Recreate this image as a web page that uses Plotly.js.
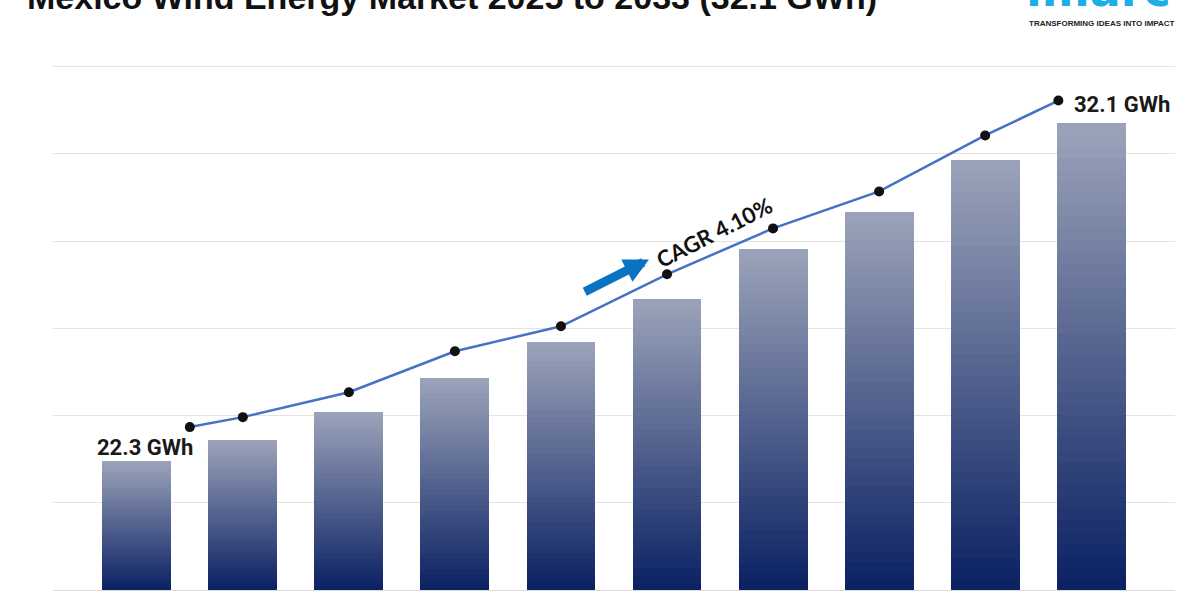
<!DOCTYPE html>
<html>
<head>
<meta charset="utf-8">
<script src="https://cdn.plot.ly/plotly-3.0.1.min.js"></script>
<style>html,body{margin:0;padding:0;background:#fff;}#chart{width:1200px;height:600px;}</style>
</head>
<body>
<div id="chart"></div>
<script>
// Data (relative index units; the chart shows no value axis)
const years = [2024, 2025, 2026, 2027, 2028, 2029, 2030, 2031, 2032, 2033];
const barValues = [7.39, 8.59, 10.19, 12.14, 14.20, 16.67, 19.53, 21.65, 24.63, 26.75];
const trendYears = [2024.5, 2025, 2026, 2027, 2028, 2029, 2030, 2031, 2032, 2032.69];
const trendValues = [9.34, 9.91, 11.34, 13.69, 15.12, 18.10, 20.73, 22.85, 26.06, 28.06];
const startLabel = "22.3 GWh";
const endLabel = "32.1 GWh";
const cagrLabel = "CAGR 4.10%";
const titleText = "Mexico Wind Energy Market 2025 to 2033 (32.1 GWh)";

// Gradient bars built as stacked slices
const N = 40;
const bottomRGB = [10, 32, 98];
const topRGB = [156, 164, 186];
function lerpColor(t) {
  const c = bottomRGB.map((b, i) => Math.round(b + (topRGB[i] - b) * t));
  return `rgb(${c[0]},${c[1]},${c[2]})`;
}
const traces = [];
for (let k = 0; k < N; k++) {
  traces.push({
    type: 'bar',
    x: years,
    y: barValues.map(v => v / N),
    width: 0.65,
    marker: { color: lerpColor((k + 0.5) / N), line: { width: 0 } },
    hoverinfo: 'skip',
    showlegend: false
  });
}
traces.push({
  type: 'scatter',
  mode: 'lines+markers',
  x: trendYears,
  y: trendValues,
  line: { color: '#4472C4', width: 2.5 },
  marker: { color: '#111111', size: 10 },
  showlegend: false,
  cliponaxis: false
});

const n = trendYears.length;
const annotations = [
  { x: -0.025, y: 1.1147, xref: 'paper', yref: 'paper', text: '<b>' + titleText + '</b>', showarrow: false,
    xanchor: 'left', yanchor: 'middle',
    font: { family: 'Arial, Liberation Sans, sans-serif', size: 34, color: '#111111' } },
  { x: trendYears[0], y: trendValues[0], xref: 'x', yref: 'y', text: '<b>' + startLabel + '</b>',
    showarrow: false, xanchor: 'right', yanchor: 'middle', xshift: 5, yshift: -20,
    font: { family: 'Roboto, Arial, sans-serif', size: 22, color: '#1a1a1a' } },
  { x: trendYears[n - 1], y: trendValues[n - 1], xref: 'x', yref: 'y', text: '<b>' + endLabel + '</b>',
    showarrow: false, xanchor: 'left', yanchor: 'middle', xshift: 14, yshift: -4,
    font: { family: 'Roboto, Arial, sans-serif', size: 22, color: '#1a1a1a' } },
  { x: 2029.44, y: 20.5, xref: 'x', yref: 'y', text: '<b>' + cagrLabel + '</b>', showarrow: false,
    textangle: -27, xanchor: 'center', yanchor: 'middle',
    font: { family: 'Lato, Arial, sans-serif', size: 22, color: '#111111' } },
  { x: 2028.83, y: 18.95, xref: 'x', yref: 'y', ax: 2028.21, ay: 17.05, axref: 'x', ayref: 'y',
    text: '', showarrow: true, arrowhead: 2, arrowsize: 0.55, arrowwidth: 9, arrowcolor: '#0A72C2' },
  { x: 1.0, y: 1.1275, xref: 'paper', yref: 'paper', text: '<b>imarc</b>', showarrow: false,
    xanchor: 'right', yanchor: 'middle', xshift: -2,
    font: { family: 'Verdana, DejaVu Sans, sans-serif', size: 46, color: '#1CAEE8' } },
  { x: 1.0, y: 1.064, xref: 'paper', yref: 'paper', text: '<b>TRANSFORMING IDEAS INTO IMPACT</b>', showarrow: false,
    xanchor: 'right', yanchor: 'middle', xshift: 2,
    font: { family: 'Arial, Liberation Sans, sans-serif', size: 8, color: '#222222' } }
];

const layout = {
  width: 1200, height: 600,
  margin: { l: 53, r: 25, t: 58, b: 10 },
  paper_bgcolor: '#ffffff', plot_bgcolor: '#ffffff',
  barmode: 'stack',
  xaxis: { range: [2023.21, 2033.79], showgrid: false, showticklabels: false, zeroline: false, showline: false, ticks: '' },
  yaxis: { range: [0, 30.5], dtick: 5, showgrid: true, gridcolor: '#e3e3e3', gridwidth: 1,
    zeroline: true, zerolinecolor: '#dcdcdc', zerolinewidth: 1, showticklabels: false, showline: false, ticks: '' },
  annotations: annotations,
  showlegend: false
};

Plotly.newPlot('chart', traces, layout, { displayModeBar: false, staticPlot: true });
</script>
</body>
</html>
